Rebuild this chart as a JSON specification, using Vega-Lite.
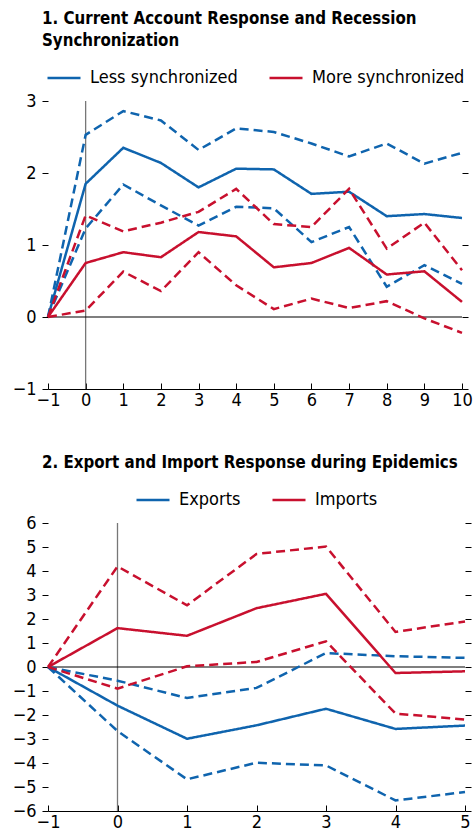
{
  "$schema": "https://vega.github.io/schema/vega-lite/v6.json",
  "background": "white",
  "padding": {"left": 12, "top": 11, "right": 2, "bottom": 0},
  "spacing": 46,
  "config": {
    "font": "DejaVu Sans Condensed, sans-serif",
    "view": {"stroke": null},
    "axis": {"labelFontSize": 18, "labelColor": "black", "tickColor": "black", "domainColor": "black", "grid": false, "title": null, "tickSize": 6, "labelPadding": 6, "labelOverlap": false, "labelFlush": false, "format": "d"},
    "legend": {"orient": "top", "direction": "horizontal", "title": null, "symbolType": "stroke", "symbolStrokeWidth": 2.5, "symbolSize": 1089, "labelFontSize": 18, "labelColor": "black", "columnPadding": 26, "labelOffset": 8, "offset": 14, "layout": {"top": {"anchor": "middle"}}},
    "title": {"anchor": "start", "frame": "group", "fontSize": 16.75, "fontWeight": "bold", "color": "black", "lineHeight": 22, "offset": 10, "dx": -6}
  },
  "vconcat": [
    {
      "width": 414,
      "height": 288,
      "title": {"text": ["1. Current Account Response and Recession", "\u00a0\u00a0\u00a0\u00a0Synchronization"]},
      "layer": [
        {
          "data": {"values": [{"t": 0}]},
          "mark": {"type": "rule", "color": "#777777", "strokeWidth": 1.3},
          "encoding": {"x": {"field": "t", "type": "quantitative", "scale": {"domain": [-1, 10], "nice": false}, "axis": {"values": [-1, 0, 1, 2, 3, 4, 5, 6, 7, 8, 9, 10], "tickSize": -6, "labelPadding": 8, "labelOverlap": false, "labelFlush": false, "labelBound": false}}}
        },
        {
          "data": {"values": [{}]},
          "mark": {"type": "rule", "color": "black", "strokeWidth": 1.2},
          "encoding": {"y": {"datum": 0, "type": "quantitative", "scale": {"domain": [-1, 3], "nice": false}, "axis": {"orient": "right", "labels": false, "domain": false, "values": [-1, 0, 1, 2, 3]}}}
        },
        {
          "data": {"values": [
            {"group": "Less synchronized", "band": "est", "t": -1, "value": 0},
            {"group": "Less synchronized", "band": "est", "t": 0, "value": 1.85},
            {"group": "Less synchronized", "band": "est", "t": 1, "value": 2.35},
            {"group": "Less synchronized", "band": "est", "t": 2, "value": 2.14},
            {"group": "Less synchronized", "band": "est", "t": 3, "value": 1.80},
            {"group": "Less synchronized", "band": "est", "t": 4, "value": 2.06},
            {"group": "Less synchronized", "band": "est", "t": 5, "value": 2.05},
            {"group": "Less synchronized", "band": "est", "t": 6, "value": 1.71},
            {"group": "Less synchronized", "band": "est", "t": 7, "value": 1.74},
            {"group": "Less synchronized", "band": "est", "t": 8, "value": 1.40},
            {"group": "Less synchronized", "band": "est", "t": 9, "value": 1.43},
            {"group": "Less synchronized", "band": "est", "t": 10, "value": 1.375},
            {"group": "Less synchronized", "band": "upper", "t": -1, "value": 0},
            {"group": "Less synchronized", "band": "upper", "t": 0, "value": 2.53},
            {"group": "Less synchronized", "band": "upper", "t": 1, "value": 2.86},
            {"group": "Less synchronized", "band": "upper", "t": 2, "value": 2.73},
            {"group": "Less synchronized", "band": "upper", "t": 3, "value": 2.32},
            {"group": "Less synchronized", "band": "upper", "t": 4, "value": 2.62},
            {"group": "Less synchronized", "band": "upper", "t": 5, "value": 2.57},
            {"group": "Less synchronized", "band": "upper", "t": 6, "value": 2.41},
            {"group": "Less synchronized", "band": "upper", "t": 7, "value": 2.23},
            {"group": "Less synchronized", "band": "upper", "t": 8, "value": 2.41},
            {"group": "Less synchronized", "band": "upper", "t": 9, "value": 2.13},
            {"group": "Less synchronized", "band": "upper", "t": 10, "value": 2.28},
            {"group": "Less synchronized", "band": "lower", "t": -1, "value": 0},
            {"group": "Less synchronized", "band": "lower", "t": 0, "value": 1.23},
            {"group": "Less synchronized", "band": "lower", "t": 1, "value": 1.84},
            {"group": "Less synchronized", "band": "lower", "t": 2, "value": 1.55},
            {"group": "Less synchronized", "band": "lower", "t": 3, "value": 1.27},
            {"group": "Less synchronized", "band": "lower", "t": 4, "value": 1.53},
            {"group": "Less synchronized", "band": "lower", "t": 5, "value": 1.51},
            {"group": "Less synchronized", "band": "lower", "t": 6, "value": 1.04},
            {"group": "Less synchronized", "band": "lower", "t": 7, "value": 1.25},
            {"group": "Less synchronized", "band": "lower", "t": 8, "value": 0.42},
            {"group": "Less synchronized", "band": "lower", "t": 9, "value": 0.72},
            {"group": "Less synchronized", "band": "lower", "t": 10, "value": 0.46},
            {"group": "More synchronized", "band": "est", "t": -1, "value": 0},
            {"group": "More synchronized", "band": "est", "t": 0, "value": 0.75},
            {"group": "More synchronized", "band": "est", "t": 1, "value": 0.90},
            {"group": "More synchronized", "band": "est", "t": 2, "value": 0.83},
            {"group": "More synchronized", "band": "est", "t": 3, "value": 1.18},
            {"group": "More synchronized", "band": "est", "t": 4, "value": 1.12},
            {"group": "More synchronized", "band": "est", "t": 5, "value": 0.69},
            {"group": "More synchronized", "band": "est", "t": 6, "value": 0.75},
            {"group": "More synchronized", "band": "est", "t": 7, "value": 0.96},
            {"group": "More synchronized", "band": "est", "t": 8, "value": 0.59},
            {"group": "More synchronized", "band": "est", "t": 9, "value": 0.635},
            {"group": "More synchronized", "band": "est", "t": 10, "value": 0.21},
            {"group": "More synchronized", "band": "upper", "t": -1, "value": 0},
            {"group": "More synchronized", "band": "upper", "t": 0, "value": 1.41},
            {"group": "More synchronized", "band": "upper", "t": 1, "value": 1.19},
            {"group": "More synchronized", "band": "upper", "t": 2, "value": 1.31},
            {"group": "More synchronized", "band": "upper", "t": 3, "value": 1.46},
            {"group": "More synchronized", "band": "upper", "t": 4, "value": 1.78},
            {"group": "More synchronized", "band": "upper", "t": 5, "value": 1.29},
            {"group": "More synchronized", "band": "upper", "t": 6, "value": 1.25},
            {"group": "More synchronized", "band": "upper", "t": 7, "value": 1.78},
            {"group": "More synchronized", "band": "upper", "t": 8, "value": 0.95},
            {"group": "More synchronized", "band": "upper", "t": 9, "value": 1.31},
            {"group": "More synchronized", "band": "upper", "t": 10, "value": 0.65},
            {"group": "More synchronized", "band": "lower", "t": -1, "value": 0},
            {"group": "More synchronized", "band": "lower", "t": 0, "value": 0.09},
            {"group": "More synchronized", "band": "lower", "t": 1, "value": 0.63},
            {"group": "More synchronized", "band": "lower", "t": 2, "value": 0.36},
            {"group": "More synchronized", "band": "lower", "t": 3, "value": 0.90},
            {"group": "More synchronized", "band": "lower", "t": 4, "value": 0.44},
            {"group": "More synchronized", "band": "lower", "t": 5, "value": 0.11},
            {"group": "More synchronized", "band": "lower", "t": 6, "value": 0.255},
            {"group": "More synchronized", "band": "lower", "t": 7, "value": 0.125},
            {"group": "More synchronized", "band": "lower", "t": 8, "value": 0.22},
            {"group": "More synchronized", "band": "lower", "t": 9, "value": -0.02},
            {"group": "More synchronized", "band": "lower", "t": 10, "value": -0.22}
          ]},
          "mark": {"type": "line", "strokeWidth": 2.5},
          "encoding": {
            "x": {"field": "t", "type": "quantitative", "scale": {"domain": [-1, 10], "nice": false}, "axis": {"values": [-1, 0, 1, 2, 3, 4, 5, 6, 7, 8, 9, 10], "tickSize": -6, "labelPadding": 8, "labelOverlap": false, "labelFlush": false, "labelBound": false}},
            "y": {"field": "value", "type": "quantitative", "scale": {"domain": [-1, 3], "nice": false}, "axis": {"orient": "left", "domain": false, "values": [-1, 0, 1, 2, 3]}},
            "color": {"field": "group", "type": "nominal", "scale": {"domain": ["Less synchronized", "More synchronized"], "range": ["#0f64ae", "#c8102e"]}},
            "strokeDash": {"field": "band", "type": "nominal", "scale": {"domain": ["est", "lower", "upper"], "range": [[1, 0], [9, 5], [9, 5]]}, "legend": null}
          }
        }
      ],
      "resolve": {"axis": {"y": "independent"}}
    },
    {
      "width": 417,
      "height": 288,
      "title": {"text": "2. Export and Import Response during Epidemics"},
      "layer": [
        {
          "data": {"values": [{"t": 0}]},
          "mark": {"type": "rule", "color": "#777777", "strokeWidth": 1.3},
          "encoding": {"x": {"field": "t", "type": "quantitative", "scale": {"domain": [-1, 5], "nice": false}, "axis": {"values": [-1, 0, 1, 2, 3, 4, 5], "tickSize": -6, "labelPadding": 8, "labelOverlap": false, "labelFlush": false, "labelBound": false}}}
        },
        {
          "data": {"values": [{}]},
          "mark": {"type": "rule", "color": "black", "strokeWidth": 1.2},
          "encoding": {"y": {"datum": 0, "type": "quantitative", "scale": {"domain": [-6, 6], "nice": false}, "axis": {"orient": "right", "labels": false, "domain": false, "values": [-6, -5, -4, -3, -2, -1, 0, 1, 2, 3, 4, 5, 6]}}}
        },
        {
          "data": {"values": [
            {"group": "Exports", "band": "est", "t": -1, "value": 0},
            {"group": "Exports", "band": "est", "t": 0, "value": -1.61},
            {"group": "Exports", "band": "est", "t": 1, "value": -2.99},
            {"group": "Exports", "band": "est", "t": 2, "value": -2.43},
            {"group": "Exports", "band": "est", "t": 3, "value": -1.74},
            {"group": "Exports", "band": "est", "t": 4, "value": -2.58},
            {"group": "Exports", "band": "est", "t": 5, "value": -2.44},
            {"group": "Exports", "band": "upper", "t": -1, "value": 0},
            {"group": "Exports", "band": "upper", "t": 0, "value": -0.57},
            {"group": "Exports", "band": "upper", "t": 1, "value": -1.29},
            {"group": "Exports", "band": "upper", "t": 2, "value": -0.87},
            {"group": "Exports", "band": "upper", "t": 3, "value": 0.58},
            {"group": "Exports", "band": "upper", "t": 4, "value": 0.45},
            {"group": "Exports", "band": "upper", "t": 5, "value": 0.38},
            {"group": "Exports", "band": "lower", "t": -1, "value": 0},
            {"group": "Exports", "band": "lower", "t": 0, "value": -2.67},
            {"group": "Exports", "band": "lower", "t": 1, "value": -4.68},
            {"group": "Exports", "band": "lower", "t": 2, "value": -3.99},
            {"group": "Exports", "band": "lower", "t": 3, "value": -4.10},
            {"group": "Exports", "band": "lower", "t": 4, "value": -5.56},
            {"group": "Exports", "band": "lower", "t": 5, "value": -5.21},
            {"group": "Imports", "band": "est", "t": -1, "value": 0},
            {"group": "Imports", "band": "est", "t": 0, "value": 1.62},
            {"group": "Imports", "band": "est", "t": 1, "value": 1.30},
            {"group": "Imports", "band": "est", "t": 2, "value": 2.45},
            {"group": "Imports", "band": "est", "t": 3, "value": 3.05},
            {"group": "Imports", "band": "est", "t": 4, "value": -0.25},
            {"group": "Imports", "band": "est", "t": 5, "value": -0.18},
            {"group": "Imports", "band": "upper", "t": -1, "value": 0},
            {"group": "Imports", "band": "upper", "t": 0, "value": 4.19},
            {"group": "Imports", "band": "upper", "t": 1, "value": 2.57},
            {"group": "Imports", "band": "upper", "t": 2, "value": 4.71},
            {"group": "Imports", "band": "upper", "t": 3, "value": 5.02},
            {"group": "Imports", "band": "upper", "t": 4, "value": 1.46},
            {"group": "Imports", "band": "upper", "t": 5, "value": 1.90},
            {"group": "Imports", "band": "lower", "t": -1, "value": 0},
            {"group": "Imports", "band": "lower", "t": 0, "value": -0.90},
            {"group": "Imports", "band": "lower", "t": 1, "value": 0.03},
            {"group": "Imports", "band": "lower", "t": 2, "value": 0.21},
            {"group": "Imports", "band": "lower", "t": 3, "value": 1.07},
            {"group": "Imports", "band": "lower", "t": 4, "value": -1.94},
            {"group": "Imports", "band": "lower", "t": 5, "value": -2.19}
          ]},
          "mark": {"type": "line", "strokeWidth": 2.5},
          "encoding": {
            "x": {"field": "t", "type": "quantitative", "scale": {"domain": [-1, 5], "nice": false}, "axis": {"values": [-1, 0, 1, 2, 3, 4, 5], "tickSize": -6, "labelPadding": 8, "labelOverlap": false, "labelFlush": false, "labelBound": false}},
            "y": {"field": "value", "type": "quantitative", "scale": {"domain": [-6, 6], "nice": false}, "axis": {"orient": "left", "domain": false, "values": [-6, -5, -4, -3, -2, -1, 0, 1, 2, 3, 4, 5, 6]}},
            "color": {"field": "group", "type": "nominal", "scale": {"domain": ["Exports", "Imports"], "range": ["#0f64ae", "#c8102e"]}},
            "strokeDash": {"field": "band", "type": "nominal", "scale": {"domain": ["est", "lower", "upper"], "range": [[1, 0], [9, 5], [9, 5]]}, "legend": null}
          }
        }
      ],
      "resolve": {"axis": {"y": "independent"}}
    }
  ],
  "resolve": {"scale": {"color": "independent", "strokeDash": "independent", "x": "independent", "y": "independent"}, "legend": {"color": "independent"}}
}
